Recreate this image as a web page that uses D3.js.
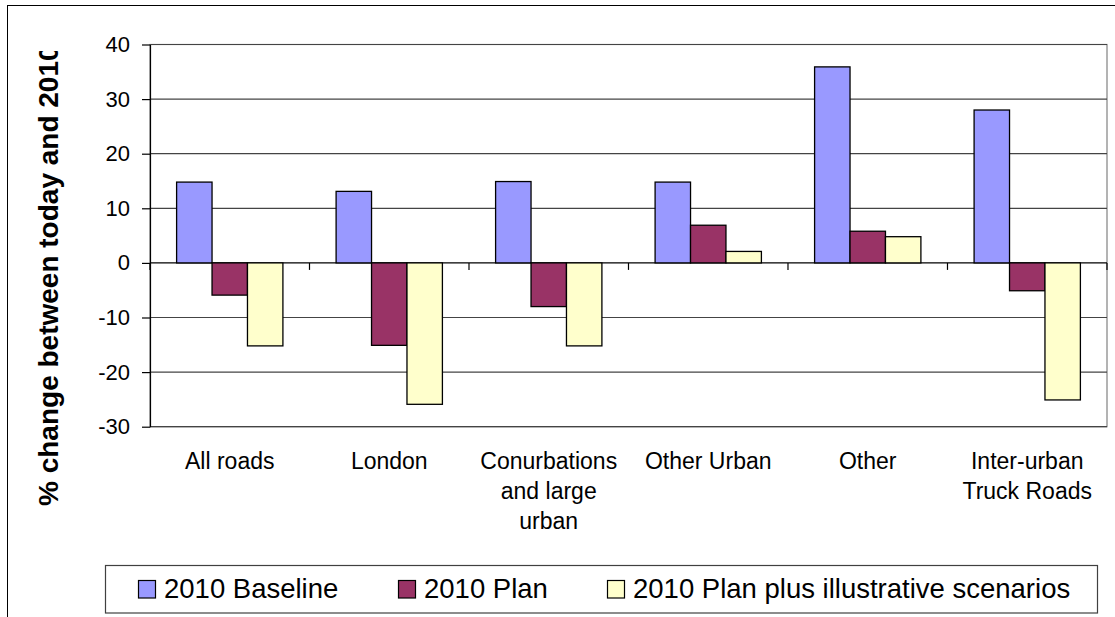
<!DOCTYPE html>
<html>
<head>
<meta charset="utf-8">
<script src="https://cdn.jsdelivr.net/npm/d3@7"></script>
<style>
  body { margin: 0; background: #fff; }
  svg text { font-family: "Liberation Sans", Arial, sans-serif; fill: #000; }
</style>
</head>
<body>
<script>
// categories and series
const categories = [
  ['All roads'],
  ['London'],
  ['Conurbations', 'and large', 'urban'],
  ['Other Urban'],
  ['Other'],
  ['Inter-urban', 'Truck Roads']
]
const seriesNames = ['2010 Baseline', '2010 Plan', '2010 Plan plus illustrative scenarios']
const baseline = [14.8, 13.1, 14.9, 14.8, 35.9, 28]
const plan = [-5.9, -15.1, -8, 6.9, 5.8, -5.1]
const planPlus = [-15.2, -25.9, -15.2, 2.1, 4.8, -25.1]
const yTicks = [-30, -20, -10, 0, 10, 20, 30, 40]
const colors = ['#9999ff', '#993366', '#ffffcc']

const W = 1115, H = 617
const plot = { left: 150, right: 1107, top: 44.5, bottom: 426.7 }

const svg = d3.select('body').append('svg')
  .attr('width', W)
  .attr('height', H)

// outer frame (only top/left visible)
svg.append('rect')
  .attr('x', 7.5).attr('y', 5.5)
  .attr('width', 1130).attr('height', 640)
  .attr('fill', '#fff')
  .attr('stroke', '#000')
  .attr('stroke-width', 1)

const keys = seriesNames.map((d, i) => i)
const data = categories.map((c, i) => ({ cat: i, values: [baseline[i], plan[i], planPlus[i]] }))

const x0 = d3.scaleBand()
  .domain(d3.range(categories.length))
  .range([plot.left, plot.right])
  .paddingInner(0.3335)
  .paddingOuter(0.1668)

const x1 = d3.scaleBand()
  .domain(keys)
  .range([0, x0.bandwidth()])

const y = d3.scaleLinear()
  .domain([-30, 40])
  .range([plot.bottom, plot.top])

// plot area border
svg.append('rect')
  .attr('x', plot.left).attr('y', plot.top)
  .attr('width', plot.right - plot.left)
  .attr('height', plot.bottom - plot.top)
  .attr('fill', 'none')
  .attr('stroke', '#808080')
  .attr('stroke-width', 1.2)

// gridlines
svg.append('g')
  .selectAll('line')
  .data(yTicks)
  .join('line')
  .attr('x1', plot.left).attr('x2', plot.right)
  .attr('y1', d => y(d)).attr('y2', d => y(d))
  .attr('stroke', d => d === 0 ? '#000' : '#444')
  .attr('stroke-width', 1.2)

// y axis
const yAxis = svg.append('g')
  .attr('transform', `translate(${plot.left},0)`)
  .call(d3.axisLeft(y)
    .tickValues(yTicks)
    .tickFormat(d => String(d))
    .tickSize(8)
    .tickSizeOuter(0)
    .tickPadding(12))
yAxis.select('.domain').attr('stroke', '#000').attr('stroke-width', 1.2)
yAxis.selectAll('.tick line').attr('stroke', '#000').attr('stroke-width', 1.2)
yAxis.selectAll('.tick text')
  .style('font-family', '"Liberation Sans", Arial, sans-serif')
  .style('font-size', '22px')
  .attr('fill', '#000')

// category ticks on zero line
const step = x0.step()
svg.append('g')
  .selectAll('line')
  .data(d3.range(categories.length + 1))
  .join('line')
  .attr('x1', i => plot.left + i * step)
  .attr('x2', i => plot.left + i * step)
  .attr('y1', y(0))
  .attr('y2', y(0) + 7)
  .attr('stroke', '#000')
  .attr('stroke-width', 1.2)

// bars
const groups = svg.append('g')
  .selectAll('g')
  .data(data)
  .join('g')
  .attr('transform', d => `translate(${x0(d.cat)},0)`)

groups.selectAll('rect')
  .data(d => d.values.map((v, k) => ({ k, v })))
  .join('rect')
  .attr('x', d => x1(d.k))
  .attr('width', x1.bandwidth())
  .attr('y', d => y(Math.max(0, d.v)))
  .attr('height', d => Math.abs(y(d.v) - y(0)))
  .attr('fill', d => colors[d.k])
  .attr('stroke', '#000')
  .attr('stroke-width', 1.3)

// category labels
const catLabels = svg.append('g')
  .selectAll('text')
  .data(categories)
  .join('text')
  .attr('text-anchor', 'middle')
  .style('font-size', '23px')
  .attr('x', (d, i) => x0(i) + x0.bandwidth() / 2)
  .attr('y', 469)

catLabels.selectAll('tspan')
  .data(d => d)
  .join('tspan')
  .attr('x', function () { return d3.select(this.parentNode).attr('x') })
  .attr('dy', (d, i) => i === 0 ? 0 : 30)
  .text(d => d)

// y axis title, clipped at the top like the original
svg.append('clipPath')
  .attr('id', 'titleClip')
  .append('rect')
  .attr('x', 0).attr('y', 51)
  .attr('width', 120).attr('height', 560)

svg.append('g')
  .attr('clip-path', 'url(#titleClip)')
  .append('text')
  .attr('transform', 'translate(58,506) rotate(-90)')
  .style('font-size', '28px')
  .style('font-weight', 'bold')
  .text('% change between today and 2010')

// legend
const legend = svg.append('g')
legend.append('rect')
  .attr('x', 105.5).attr('y', 565.5)
  .attr('width', 992).attr('height', 47.5)
  .attr('fill', '#fff')
  .attr('stroke', '#404040')
  .attr('stroke-width', 1.2)

const legendX = [138, 398, 607]
const items = legend.selectAll('g.item')
  .data(seriesNames)
  .join('g')
  .attr('class', 'item')
  .attr('transform', (d, i) => `translate(${legendX[i]},0)`)

items.append('rect')
  .attr('x', 0.5).attr('y', 580.5)
  .attr('width', 17).attr('height', 17.5)
  .attr('fill', (d, i) => colors[i])
  .attr('stroke', '#000')
  .attr('stroke-width', 1.2)

items.append('text')
  .attr('x', 26)
  .attr('y', 598)
  .style('font-size', '27.5px')
  .text(d => d)
</script>
</body>
</html>
